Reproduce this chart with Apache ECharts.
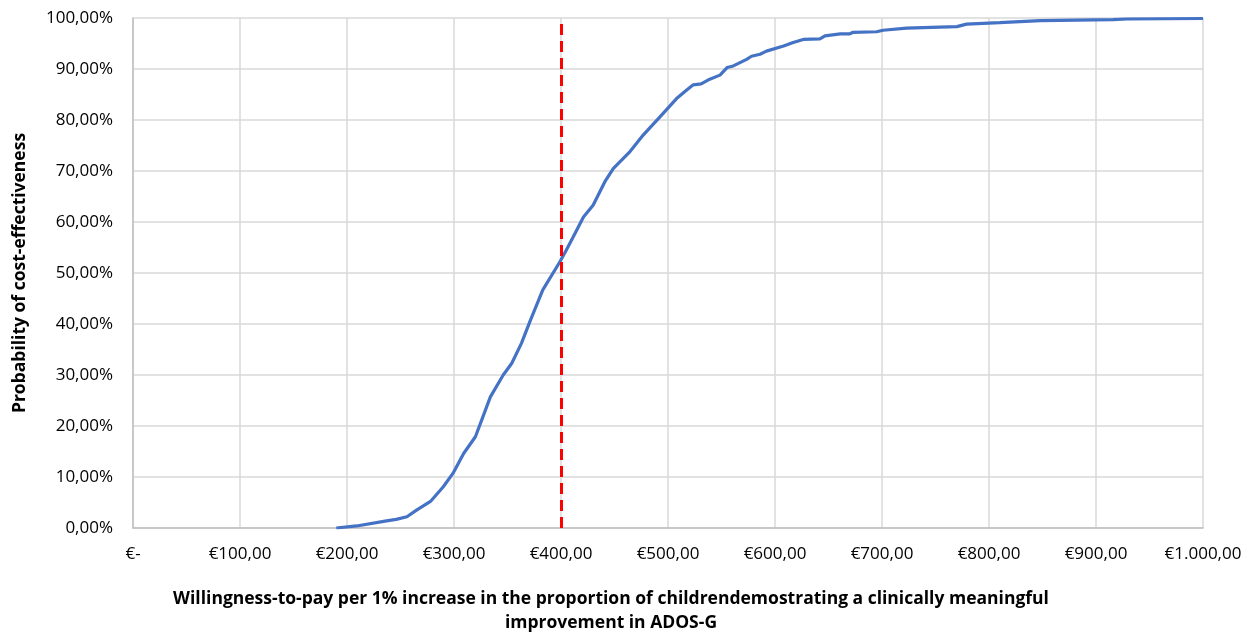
<!DOCTYPE html>
<html>
<head>
<meta charset="utf-8">
<title>Cost-effectiveness acceptability curve</title>
<script src="https://cdn.jsdelivr.net/npm/echarts@6/dist/echarts.min.js"></script>
<style>
  html, body { margin: 0; padding: 0; background: #ffffff; }
  #chart { width: 1258px; height: 636px; }
</style>
</head>
<body>
<div id="chart"></div>
<script>
// Willingness-to-pay (EUR) and probability of cost-effectiveness (%)
const wtp = [190, 209, 237, 246, 256, 265, 278, 290, 299, 309, 320, 327, 334, 346, 354, 363,
  371, 383, 399, 405, 411.5, 421, 430, 441, 449, 464.5, 477, 492.5, 508, 517.5, 523.6, 531,
  539, 548.6, 555.4, 561, 573.5, 578, 586, 592, 608, 617, 626.4, 642, 646.7, 661, 670, 673,
  695, 701, 723, 754, 770, 779, 810, 848, 916, 929, 1000];
const prob = [0, 0.4, 1.4, 1.7, 2.2, 3.5, 5.2, 8.1, 10.7, 14.6, 17.9, 21.8, 25.7, 30, 32.3, 36.2,
  40.5, 46.7, 52.2, 54.5, 57.1, 61, 63.3, 67.9, 70.5, 73.8, 77.1, 80.6, 84.2, 85.9, 86.9, 87.1,
  88, 88.8, 90.3, 90.6, 91.9, 92.5, 92.9, 93.5, 94.5, 95.2, 95.8, 95.9, 96.5, 96.9, 96.9, 97.2,
  97.3, 97.6, 98, 98.2, 98.3, 98.8, 99.1, 99.5, 99.7, 99.8, 99.9];

// Threshold willingness-to-pay marked with a dashed line
const threshold = 400;

const xTitle = 'Willingness-to-pay per 1% increase in the proportion of childrendemostrating a clinically meaningful\nimprovement in ADOS-G';
const yTitle = 'Probability of cost-effectiveness';

function euro(v) {
  if (v === 0) return '€-';
  const s = String(Math.round(v)).replace(/\B(?=(\d{3})+(?!\d))/g, '.');
  return '€' + s + ',00';
}

const FONT = '"Open Sans", "Liberation Sans", sans-serif';
const chart = echarts.init(document.getElementById('chart'), null, { renderer: 'canvas' });

chart.setOption({
  animation: false,
  backgroundColor: '#ffffff',
  grid: { left: 133, right: 55, top: 18, bottom: 108, containLabel: false, outerBoundsMode: 'none' },
  xAxis: {
    type: 'value', min: 0, max: 1000, interval: 100,
    name: xTitle, nameLocation: 'middle', nameGap: 59,
    nameTextStyle: { fontFamily: FONT, fontSize: 17.5, fontWeight: 'bold', color: '#000', lineHeight: 24, padding: [0, 114, 0, 0] },
    axisLine: { show: true, lineStyle: { color: '#bfbfbf', width: 1.5 } },
    axisTick: { show: false },
    axisLabel: { formatter: euro, fontFamily: FONT, fontSize: 17, color: '#000', margin: 18 },
    splitLine: { show: true, lineStyle: { color: '#d9d9d9', width: 1.5 } }
  },
  yAxis: {
    type: 'value', min: 0, max: 100, interval: 10,
    name: yTitle, nameLocation: 'middle', nameGap: 104, nameRotate: 90,
    nameTextStyle: { fontFamily: FONT, fontSize: 17.5, fontWeight: 'bold', color: '#000' },
    axisLine: { show: true, lineStyle: { color: '#bfbfbf', width: 1.5 } },
    axisTick: { show: false },
    axisLabel: { formatter: v => v + ',00%', fontFamily: FONT, fontSize: 17, color: '#000', margin: 20 },
    splitLine: { show: true, lineStyle: { color: '#d9d9d9', width: 1.5 } }
  },
  series: [{
    type: 'line',
    data: wtp.map((x, i) => [x, prob[i]]),
    showSymbol: false,
    lineStyle: { color: '#4472c4', width: 3.2 },
    itemStyle: { color: '#4472c4' },
    markLine: {
      silent: true,
      symbol: ['none', 'none'],
      label: { show: false },
      lineStyle: { color: '#ff0000', width: 3, type: [11, 6] },
      data: [{ xAxis: threshold }]
    }
  }]
});
</script>
</body>
</html>
